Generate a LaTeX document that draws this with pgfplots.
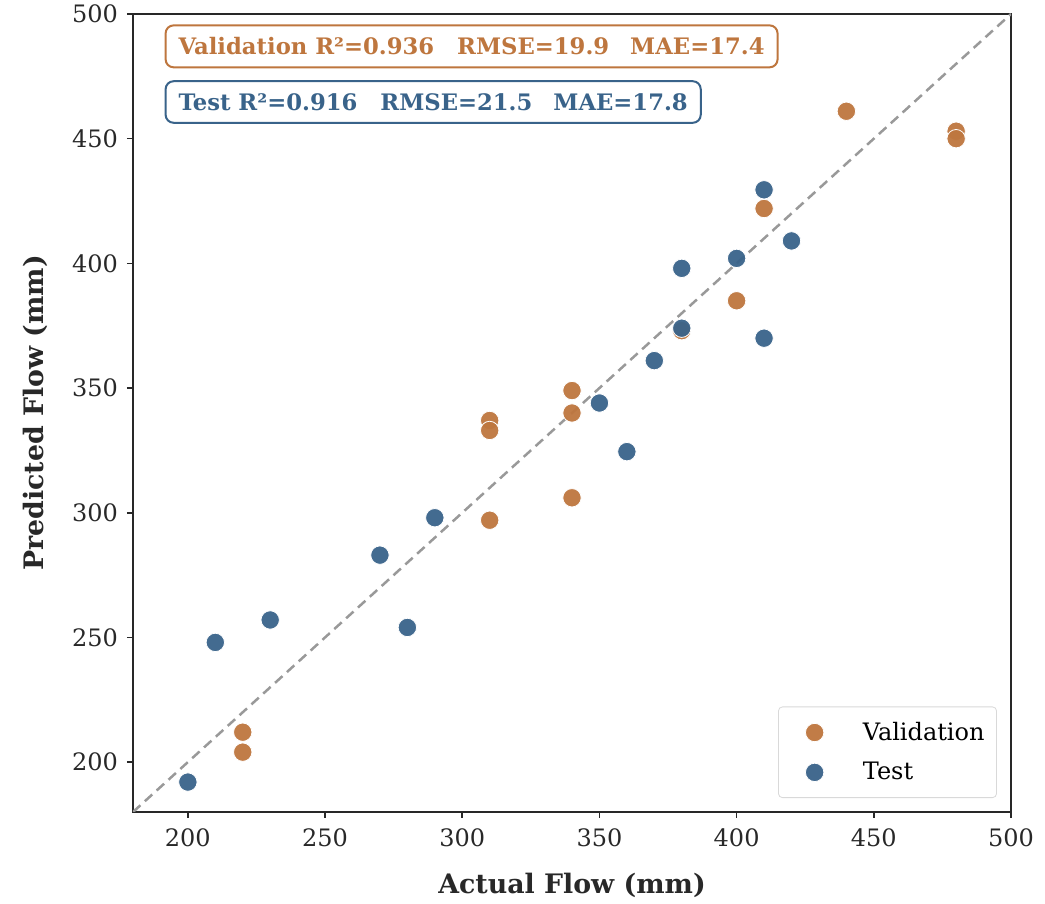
\documentclass[border=0pt]{standalone}
\usepackage{pgfplots}
\pgfplotsset{compat=1.18}
\usepackage{fontspec}
\setmainfont{DejaVu Serif}
\definecolor{vorange}{RGB}{190,118,62}
\definecolor{tblue}{RGB}{57,99,138}
\definecolor{axgray}{RGB}{40,40,40}
\begin{document}
\begin{tikzpicture}
\begin{axis}[
  scale only axis,
  width=439pt, height=399pt,
  xmin=180, xmax=500, ymin=180, ymax=500,
  xtick={200,250,...,500}, ytick={200,250,...,500},
  /pgf/number format/assume math mode=true,
  tick label style={font=\fontsize{12}{14}\selectfont, color=axgray},
  xticklabel style={yshift=-2pt},
  yticklabel style={xshift=-1pt},
  axis line style={axgray, line width=1pt},
  tick style={axgray, line width=0.8pt},
  tick align=outside, major tick length=3pt,
  xtick pos=bottom, ytick pos=left,
  xlabel={\bfseries Actual Flow (mm)},
  ylabel={\bfseries Predicted Flow (mm)},
  label style={font=\fontsize{13.4}{15}\selectfont, color=axgray},
  xlabel style={at={(axis description cs:0.5,-0.0915)}, anchor=center},
  ylabel style={at={(axis description cs:-0.1116,0.5)}, anchor=center},
  legend style={at={(0.984,0.0175)}, anchor=south east, draw=black!15, rounded corners=2pt,
    font=\fontsize{12}{14}\selectfont, row sep=5.5pt, inner xsep=4pt, inner ysep=5.5pt,
    /tikz/every odd column/.append style={column sep=7pt}},
  legend cell align=left,
  legend image code/.code={\path[draw=none, fill=none] (-14.1pt,-1pt) rectangle (15.1pt,1pt); \draw[#1] plot coordinates {(0pt,0pt)};},
]
\coordinate (ll) at (rel axis cs:0,0);
\addplot[gray!80, line width=1.25pt, dash pattern=on 5pt off 3pt, forget plot] coordinates {(180,180) (500,500)};
\addplot[only marks, mark=*, mark size=4.6pt, mark options={fill=vorange, draw=white, line width=0.4pt, fill opacity=0.95}] coordinates {
(220,212) (220,204) (310,337) (310,333) (310,297) (340,349) (340,340) (340,306)
(380,373) (400,385) (410,422) (440,461) (480,453) (480,450)
};
\addlegendentry{Validation}
\addplot[only marks, mark=*, mark size=4.6pt, mark options={fill=tblue, draw=white, line width=0.4pt, fill opacity=0.95}] coordinates {
(200,192) (210,248) (230,257) (270,283) (280,254) (290,298) (350,344) (360,324.5)
(370,361) (380,398) (380,374) (400,402) (410,429.5) (410,370) (420,409)
};
\addlegendentry{Test}
\node[anchor=north west, draw=vorange, line width=1pt, rounded corners=4pt, fill=white, text=vorange,
  font=\bfseries\fontsize{11.35}{13}\selectfont, inner xsep=6.5pt, inner ysep=6.1pt]
  at (rel axis cs:0.036,0.987) {Validation R²=0.936\hspace{11.5pt}RMSE=19.9\hspace{10.5pt}MAE=17.4};
\node[anchor=north west, draw=tblue, line width=1pt, rounded corners=4pt, fill=white, text=tblue,
  font=\bfseries\fontsize{11.35}{13}\selectfont, inner xsep=6.5pt, inner ysep=6.1pt]
  at (rel axis cs:0.036,0.917) {Test R²=0.916\hspace{11.5pt}RMSE=21.5\hspace{10.5pt}MAE=17.8};
\end{axis}
\pgfresetboundingbox
\path (ll) ++(-66.5pt,-46pt) rectangle ++(522.5pt,452pt);
\end{tikzpicture}
\end{document}
